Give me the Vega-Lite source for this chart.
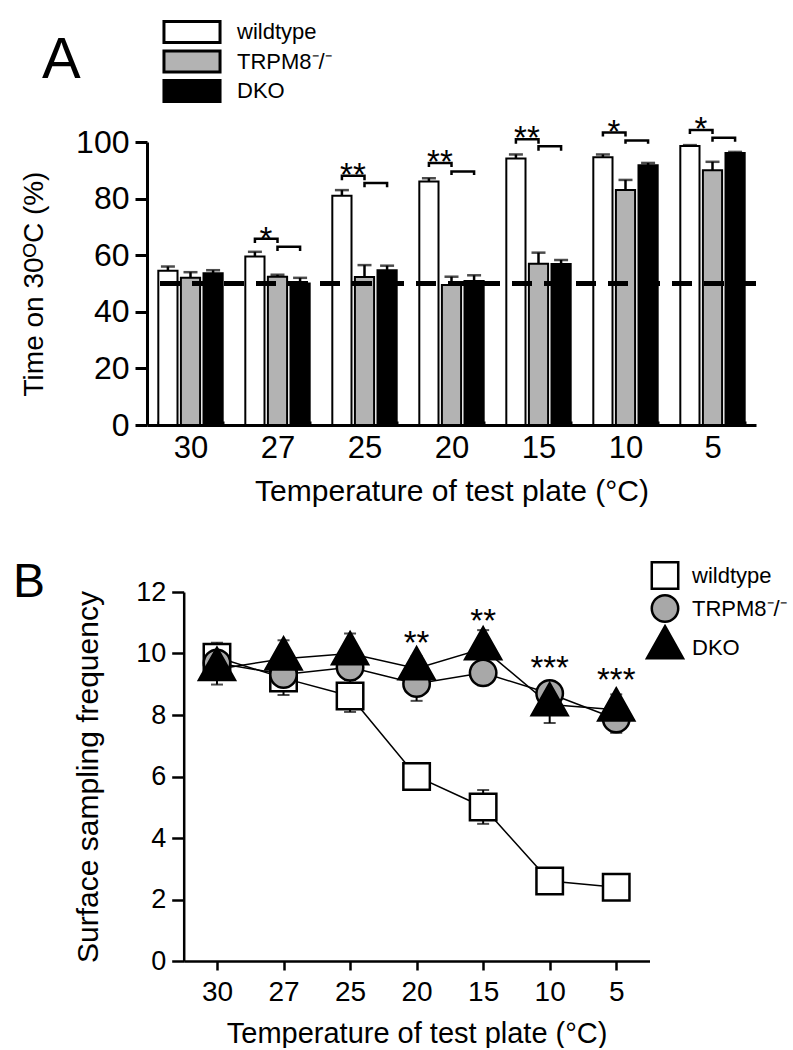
{
  "$schema": "https://vega.github.io/schema/vega-lite/v6.json",
  "background": "white",
  "padding": {"left": 13, "top": 20, "right": 0, "bottom": 0},
  "config": {
    "font": "Liberation Sans",
    "view": {"stroke": null},
    "axis": {"domainColor": "black", "tickColor": "black", "labelColor": "black", "titleColor": "black", "grid": false, "titleFontWeight": "normal", "labelFont": "Liberation Sans", "titleFont": "Liberation Sans"},
    "title": {"font": "Liberation Sans", "fontWeight": "normal", "color": "black"},
    "legend": {"labelFont": "Liberation Sans", "labelColor": "black"}
  },
  "datasets": {
    "barsA": [
      {"temp": 30, "genotype": "wildtype", "value": 54.5, "hi": 56.0},
      {"temp": 30, "genotype": "TRPM8\u207b/\u207b", "value": 52.0, "hi": 54.0},
      {"temp": 30, "genotype": "DKO", "value": 53.6, "hi": 54.7},
      {"temp": 27, "genotype": "wildtype", "value": 59.5, "hi": 61.2},
      {"temp": 27, "genotype": "TRPM8\u207b/\u207b", "value": 52.4, "hi": 53.1},
      {"temp": 27, "genotype": "DKO", "value": 50.0, "hi": 52.0},
      {"temp": 25, "genotype": "wildtype", "value": 81.0, "hi": 83.0},
      {"temp": 25, "genotype": "TRPM8\u207b/\u207b", "value": 52.3, "hi": 56.5},
      {"temp": 25, "genotype": "DKO", "value": 54.7, "hi": 56.3},
      {"temp": 20, "genotype": "wildtype", "value": 86.0, "hi": 87.2},
      {"temp": 20, "genotype": "TRPM8\u207b/\u207b", "value": 49.5, "hi": 52.4},
      {"temp": 20, "genotype": "DKO", "value": 50.9, "hi": 52.9},
      {"temp": 15, "genotype": "wildtype", "value": 94.2, "hi": 95.6},
      {"temp": 15, "genotype": "TRPM8\u207b/\u207b", "value": 57.0, "hi": 60.9},
      {"temp": 15, "genotype": "DKO", "value": 56.9, "hi": 58.3},
      {"temp": 10, "genotype": "wildtype", "value": 94.6, "hi": 95.6},
      {"temp": 10, "genotype": "TRPM8\u207b/\u207b", "value": 83.0, "hi": 86.6},
      {"temp": 10, "genotype": "DKO", "value": 91.8, "hi": 92.6},
      {"temp": 5, "genotype": "wildtype", "value": 98.6, "hi": 98.9},
      {"temp": 5, "genotype": "TRPM8\u207b/\u207b", "value": 90.0, "hi": 93.0},
      {"temp": 5, "genotype": "DKO", "value": 96.1, "hi": 96.5}
    ],
    "bracketsA": [
      {"id": "27a", "temp": 27, "genotype": "wildtype", "y": 64.3, "k": 1},
      {"id": "27a", "temp": 27, "genotype": "wildtype", "y": 65.8, "k": 2},
      {"id": "27a", "temp": 27, "genotype": "TRPM8\u207b/\u207b", "y": 65.8, "k": 3},
      {"id": "27a", "temp": 27, "genotype": "TRPM8\u207b/\u207b", "y": 64.3, "k": 4},
      {"id": "27b", "temp": 27, "genotype": "TRPM8\u207b/\u207b", "y": 61.5, "k": 1},
      {"id": "27b", "temp": 27, "genotype": "TRPM8\u207b/\u207b", "y": 63.0, "k": 2},
      {"id": "27b", "temp": 27, "genotype": "DKO", "y": 63.0, "k": 3},
      {"id": "27b", "temp": 27, "genotype": "DKO", "y": 61.5, "k": 4},
      {"id": "25a", "temp": 25, "genotype": "wildtype", "y": 86.5, "k": 1},
      {"id": "25a", "temp": 25, "genotype": "wildtype", "y": 88.1, "k": 2},
      {"id": "25a", "temp": 25, "genotype": "TRPM8\u207b/\u207b", "y": 88.1, "k": 3},
      {"id": "25a", "temp": 25, "genotype": "TRPM8\u207b/\u207b", "y": 86.5, "k": 4},
      {"id": "25b", "temp": 25, "genotype": "TRPM8\u207b/\u207b", "y": 84.0, "k": 1},
      {"id": "25b", "temp": 25, "genotype": "TRPM8\u207b/\u207b", "y": 85.5, "k": 2},
      {"id": "25b", "temp": 25, "genotype": "DKO", "y": 85.5, "k": 3},
      {"id": "25b", "temp": 25, "genotype": "DKO", "y": 84.0, "k": 4},
      {"id": "20a", "temp": 20, "genotype": "wildtype", "y": 91.2, "k": 1},
      {"id": "20a", "temp": 20, "genotype": "wildtype", "y": 92.6, "k": 2},
      {"id": "20a", "temp": 20, "genotype": "TRPM8\u207b/\u207b", "y": 92.6, "k": 3},
      {"id": "20a", "temp": 20, "genotype": "TRPM8\u207b/\u207b", "y": 91.2, "k": 4},
      {"id": "20b", "temp": 20, "genotype": "TRPM8\u207b/\u207b", "y": 88.3, "k": 1},
      {"id": "20b", "temp": 20, "genotype": "TRPM8\u207b/\u207b", "y": 89.6, "k": 2},
      {"id": "20b", "temp": 20, "genotype": "DKO", "y": 89.6, "k": 3},
      {"id": "20b", "temp": 20, "genotype": "DKO", "y": 88.3, "k": 4},
      {"id": "15a", "temp": 15, "genotype": "wildtype", "y": 99.4, "k": 1},
      {"id": "15a", "temp": 15, "genotype": "wildtype", "y": 101.0, "k": 2},
      {"id": "15a", "temp": 15, "genotype": "TRPM8\u207b/\u207b", "y": 101.0, "k": 3},
      {"id": "15a", "temp": 15, "genotype": "TRPM8\u207b/\u207b", "y": 99.4, "k": 4},
      {"id": "15b", "temp": 15, "genotype": "TRPM8\u207b/\u207b", "y": 96.9, "k": 1},
      {"id": "15b", "temp": 15, "genotype": "TRPM8\u207b/\u207b", "y": 98.5, "k": 2},
      {"id": "15b", "temp": 15, "genotype": "DKO", "y": 98.5, "k": 3},
      {"id": "15b", "temp": 15, "genotype": "DKO", "y": 96.9, "k": 4},
      {"id": "10a", "temp": 10, "genotype": "wildtype", "y": 101.9, "k": 1},
      {"id": "10a", "temp": 10, "genotype": "wildtype", "y": 103.4, "k": 2},
      {"id": "10a", "temp": 10, "genotype": "TRPM8\u207b/\u207b", "y": 103.4, "k": 3},
      {"id": "10a", "temp": 10, "genotype": "TRPM8\u207b/\u207b", "y": 101.9, "k": 4},
      {"id": "10b", "temp": 10, "genotype": "TRPM8\u207b/\u207b", "y": 99.4, "k": 1},
      {"id": "10b", "temp": 10, "genotype": "TRPM8\u207b/\u207b", "y": 100.5, "k": 2},
      {"id": "10b", "temp": 10, "genotype": "DKO", "y": 100.5, "k": 3},
      {"id": "10b", "temp": 10, "genotype": "DKO", "y": 99.4, "k": 4},
      {"id": "5a", "temp": 5, "genotype": "wildtype", "y": 102.8, "k": 1},
      {"id": "5a", "temp": 5, "genotype": "wildtype", "y": 104.2, "k": 2},
      {"id": "5a", "temp": 5, "genotype": "TRPM8\u207b/\u207b", "y": 104.2, "k": 3},
      {"id": "5a", "temp": 5, "genotype": "TRPM8\u207b/\u207b", "y": 102.8, "k": 4},
      {"id": "5b", "temp": 5, "genotype": "TRPM8\u207b/\u207b", "y": 100.1, "k": 1},
      {"id": "5b", "temp": 5, "genotype": "TRPM8\u207b/\u207b", "y": 101.5, "k": 2},
      {"id": "5b", "temp": 5, "genotype": "DKO", "y": 101.5, "k": 3},
      {"id": "5b", "temp": 5, "genotype": "DKO", "y": 100.1, "k": 4}
    ],
    "starsA": [
      {"temp": 27, "genotype": "wildtype", "y": 68.5, "label": "*"},
      {"temp": 25, "genotype": "wildtype", "y": 91.2, "label": "**"},
      {"temp": 20, "genotype": "wildtype", "y": 95.6, "label": "**"},
      {"temp": 15, "genotype": "wildtype", "y": 104.0, "label": "**"},
      {"temp": 10, "genotype": "wildtype", "y": 106.3, "label": "*"},
      {"temp": 5, "genotype": "wildtype", "y": 107.2, "label": "*"}
    ],
    "pointsB": [
      {"temp": 30, "genotype": "wildtype", "value": 9.88, "lo": 9.41, "hi": 10.35},
      {"temp": 27, "genotype": "wildtype", "value": 9.2, "lo": 8.65, "hi": 9.75},
      {"temp": 25, "genotype": "wildtype", "value": 8.62, "lo": 8.1, "hi": 9.14},
      {"temp": 20, "genotype": "wildtype", "value": 6.0, "lo": 5.56, "hi": 6.44},
      {"temp": 15, "genotype": "wildtype", "value": 5.01, "lo": 4.46, "hi": 5.56},
      {"temp": 10, "genotype": "wildtype", "value": 2.6, "lo": 2.3, "hi": 2.9},
      {"temp": 5, "genotype": "wildtype", "value": 2.4, "lo": 2.1, "hi": 2.7},
      {"temp": 30, "genotype": "TRPM8\u207b/\u207b", "value": 9.69, "lo": 9.34, "hi": 10.04},
      {"temp": 27, "genotype": "TRPM8\u207b/\u207b", "value": 9.32, "lo": 9.02, "hi": 9.62},
      {"temp": 25, "genotype": "TRPM8\u207b/\u207b", "value": 9.55, "lo": 9.19, "hi": 9.91},
      {"temp": 20, "genotype": "TRPM8\u207b/\u207b", "value": 9.02, "lo": 8.46, "hi": 9.58},
      {"temp": 15, "genotype": "TRPM8\u207b/\u207b", "value": 9.37, "lo": 8.97, "hi": 9.77},
      {"temp": 10, "genotype": "TRPM8\u207b/\u207b", "value": 8.7, "lo": 8.33, "hi": 9.07},
      {"temp": 5, "genotype": "TRPM8\u207b/\u207b", "value": 7.87, "lo": 7.42, "hi": 8.32},
      {"temp": 30, "genotype": "DKO", "value": 9.49, "lo": 8.99, "hi": 9.99},
      {"temp": 27, "genotype": "DKO", "value": 9.83, "lo": 9.23, "hi": 10.43},
      {"temp": 25, "genotype": "DKO", "value": 10.0, "lo": 9.35, "hi": 10.65},
      {"temp": 20, "genotype": "DKO", "value": 9.51, "lo": 9.11, "hi": 9.91},
      {"temp": 15, "genotype": "DKO", "value": 10.16, "lo": 9.56, "hi": 10.76},
      {"temp": 10, "genotype": "DKO", "value": 8.34, "lo": 7.74, "hi": 8.94},
      {"temp": 5, "genotype": "DKO", "value": 8.17, "lo": 7.67, "hi": 8.67}
    ],
    "starsB": [
      {"temp": 20, "y": 10.59, "label": "**"},
      {"temp": 15, "y": 11.3, "label": "**"},
      {"temp": 10, "y": 9.78, "label": "***"},
      {"temp": 5, "y": 9.4, "label": "***"}
    ]
  },
  "vconcat": [
    {
      "width": 609,
      "height": 283,
      "title": {"text": "A", "anchor": "start", "frame": "group", "fontSize": 58, "dx": -105, "offset": -70},
      "data": {"name": "barsA"},
      "encoding": {
        "x": {"field": "temp", "type": "nominal", "scale": {"domain": [30, 27, 25, 20, 15, 10, 5], "paddingInner": 0.26, "paddingOuter": 0.13},
          "axis": {"title": "Temperature of test plate (\u00b0C)", "labelAngle": 0, "labelFontSize": 31, "titleFontSize": 30, "domainWidth": 3, "tickBand": "extent", "tickSize": -4, "tickWidth": 2, "labelPadding": 12, "titlePadding": 13}},
        "xOffset": {"field": "genotype", "type": "nominal", "scale": {"domain": ["wildtype", "TRPM8\u207b/\u207b", "DKO"], "paddingInner": 0.15, "paddingOuter": 0}}
      },
      "layer": [
        {
          "mark": {"type": "bar", "stroke": "black", "strokeWidth": 2},
          "encoding": {
            "y": {"field": "value", "type": "quantitative", "scale": {"domain": [0, 100], "nice": false},
              "axis": {"title": "Time on 30\u1d3cC (%)", "values": [0, 20, 40, 60, 80, 100], "labelFontSize": 32, "titleFontSize": 28, "tickSize": 12, "tickWidth": 3, "domainWidth": 3, "labelPadding": 6, "titlePadding": 27}},
            "fill": {"field": "genotype", "type": "nominal", "scale": {"domain": ["wildtype", "TRPM8\u207b/\u207b", "DKO"], "range": ["white", "#b3b3b3", "black"]},
              "legend": {"orient": "none", "legendX": 33, "legendY": -122, "title": null, "padding": 0, "labelFontSize": 22, "symbolType": "M-2.67,-1H2.67V1H-2.67Z", "symbolSize": 441, "symbolStrokeColor": "black", "symbolStrokeWidth": 3, "labelOffset": 33, "rowPadding": -4.5}}
          }
        },
        {
          "mark": {"type": "rule", "strokeWidth": 2.5, "color": "black"},
          "encoding": {"y": {"field": "value", "type": "quantitative"}, "y2": {"field": "hi"}}
        },
        {
          "mark": {"type": "tick", "size": 14, "thickness": 2.5, "color": "black"},
          "encoding": {"y": {"field": "hi", "type": "quantitative"}}
        },
        {
          "mark": {"type": "rule", "strokeDash": [20, 12], "strokeWidth": 4, "color": "black"},
          "encoding": {"y": {"datum": 50, "type": "quantitative"}, "x": null, "xOffset": null}
        },
        {
          "data": {"name": "bracketsA"},
          "mark": {"type": "line", "strokeWidth": 2.5, "color": "black"},
          "encoding": {"y": {"field": "y", "type": "quantitative"}, "detail": {"field": "id"}, "order": {"field": "k"}}
        },
        {
          "data": {"name": "starsA"},
          "mark": {"type": "text", "fontSize": 33, "baseline": "alphabetic", "dy": 18.8, "dx": 11, "color": "black"},
          "encoding": {"y": {"field": "y", "type": "quantitative"}, "text": {"field": "label"}}
        }
      ]
    },
    {
      "width": 502.5,
      "height": 369,
      "title": {"text": "B", "anchor": "start", "frame": "group", "fontSize": 48, "dx": -134, "offset": -45.5},
      "data": {"name": "pointsB"},
      "encoding": {
        "x": {"field": "temp", "type": "ordinal", "scale": {"type": "point", "domain": [30, 27, 25, 20, 15, 10, 5], "padding": 0.5, "range": [36.7, 502.5]},
          "axis": {"title": "Temperature of test plate (\u00b0C)", "labelAngle": 0, "labelFontSize": 28, "titleFontSize": 29, "domainWidth": 2.5, "tickWidth": 2.5, "tickSize": 9, "labelPadding": 8, "titlePadding": 13}}
      },
      "layer": [
        {
          "mark": {"type": "line", "color": "black", "strokeWidth": 1.5},
          "encoding": {
            "y": {"field": "value", "type": "quantitative", "scale": {"domain": [0, 12], "nice": false},
              "axis": {"title": "Surface sampling frequency", "offset": -36.7, "values": [0, 2, 4, 6, 8, 10, 12], "labelFontSize": 27, "titleFontSize": 30, "tickSize": 12, "tickWidth": 2.5, "domainWidth": 2.5, "labelPadding": 6, "titlePadding": 32}},
            "detail": {"field": "genotype"}
          }
        },
        {
          "mark": {"type": "rule", "strokeWidth": 2, "color": "black"},
          "encoding": {"y": {"field": "lo", "type": "quantitative"}, "y2": {"field": "hi"}}
        },
        {
          "mark": {"type": "tick", "size": 12, "thickness": 2, "color": "black"},
          "encoding": {"y": {"field": "lo", "type": "quantitative"}}
        },
        {
          "mark": {"type": "tick", "size": 12, "thickness": 2, "color": "black"},
          "encoding": {"y": {"field": "hi", "type": "quantitative"}}
        },
        {
          "mark": {"type": "point", "filled": false, "size": 700, "strokeWidth": 2.5, "opacity": 1, "fillOpacity": 1},
          "encoding": {
            "y": {"field": "value", "type": "quantitative"},
            "fill": {"field": "genotype", "type": "nominal", "scale": {"domain": ["wildtype", "TRPM8\u207b/\u207b", "DKO"], "range": ["white", "#a8a8a8", "black"]},
              "legend": {"orient": "none", "legendX": 503.5, "legendY": -31, "title": null, "padding": 0, "labelFontSize": 22, "symbolStrokeWidth": 2.5, "symbolSize": 700, "rowPadding": -6, "labelOffset": 12.5}},
            "stroke": {"field": "genotype", "type": "nominal", "scale": {"domain": ["wildtype", "TRPM8\u207b/\u207b", "DKO"], "range": ["black", "black", "black"]},
              "legend": {"orient": "none", "legendX": 503.5, "legendY": -31, "title": null, "padding": 0, "labelFontSize": 22, "symbolStrokeWidth": 2.5, "symbolSize": 700, "rowPadding": -6, "labelOffset": 12.5}},
            "shape": {"field": "genotype", "type": "nominal", "scale": {"domain": ["wildtype", "TRPM8\u207b/\u207b", "DKO"], "range": ["square", "circle", "M0,-1.61L1.36,0.81L-1.36,0.81Z"]},
              "legend": {"orient": "none", "legendX": 503.5, "legendY": -31, "title": null, "padding": 0, "labelFontSize": 22, "symbolStrokeWidth": 2.5, "symbolSize": 700, "rowPadding": -6, "labelOffset": 12.5}}
          }
        },
        {
          "data": {"name": "starsB"},
          "mark": {"type": "text", "fontSize": 33, "baseline": "alphabetic", "dy": 18.8, "color": "black"},
          "encoding": {"y": {"field": "y", "type": "quantitative"}, "text": {"field": "label"}}
        }
      ]
    }
  ],
  "spacing": 52,
  "resolve": {"scale": {"x": "independent", "y": "independent", "fill": "independent", "shape": "independent", "stroke": "independent", "xOffset": "independent"}, "legend": {"fill": "independent", "shape": "independent", "stroke": "independent"}}
}
